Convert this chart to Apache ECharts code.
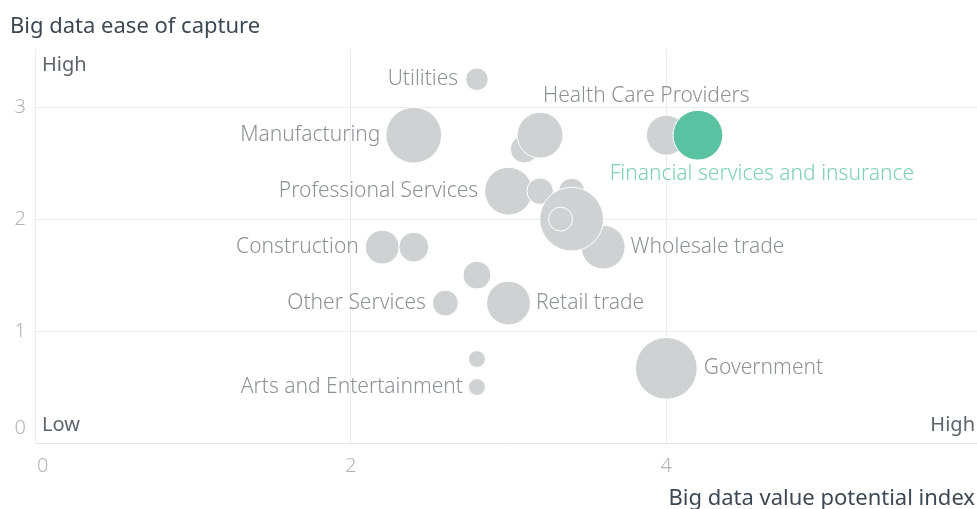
<!DOCTYPE html>
<html>
<head>
<meta charset="utf-8">
<script src="https://cdn.jsdelivr.net/npm/echarts@6/dist/echarts.min.js"></script>
<style>
  html, body { margin: 0; padding: 0; background: #fff; }
  #chart { width: 977px; height: 509px; }
</style>
</head>
<body>
<div id="chart"></div>
<script>
// data (x = value potential, y = ease of capture, size = bubble weight)
var names = ['', '', 'Utilities', 'Manufacturing', 'Health Care Providers', 'Professional Services',
  '', '', 'Wholesale trade', '', '', 'Construction', '', '', 'Other Services', 'Retail trade',
  '', 'Arts and Entertainment', 'Government'];
var xValues = [3.1, 3.2, 2.8, 2.4, 4.0, 3.0, 3.4, 3.2, 3.6, 3.4, 3.33, 2.2, 2.4, 2.8, 2.6, 3.0, 2.8, 2.8, 4.0];
var yValues = [2.625, 2.75, 3.25, 2.75, 2.75, 2.25, 2.25, 2.25, 1.75, 2.0, 2.0, 1.75, 1.75, 1.5, 1.25, 1.25, 0.75, 0.5, 0.667];
var sizes = [19.6, 52.9, 12.8, 78.4, 40, 57.6, 17, 17.6, 48.4, 102.4, 14.4, 28.9, 22.5, 19.6, 16.9, 48.4, 7.2, 7.2, 96.1];

var highlightName = ['Financial services and insurance'];
var highlightX = [4.2];
var highlightY = [2.75];
var highlightSize = [62.5];

var xTicks = [0, 2, 4, 6];
var yTicks = [0, 1, 2, 3];

var FONT = '"Noto Sans", "Open Sans", sans-serif';

// where each label sits next to its bubble
var labelPlace = {
  'Utilities': { position: 'left', distance: 7 },
  'Manufacturing': { position: 'left', distance: 5 },
  'Health Care Providers': { position: 'top', distance: 8, offset: [-20, 0] },
  'Professional Services': { position: 'left', distance: 6 },
  'Wholesale trade': { position: 'right', distance: 5 },
  'Construction': { position: 'left', distance: 6 },
  'Other Services': { position: 'left', distance: 6 },
  'Retail trade': { position: 'right', distance: 5 },
  'Arts and Entertainment': { position: 'left', distance: 5 },
  'Government': { position: 'right', distance: 6 },
  'Financial services and insurance': { position: 'bottom', distance: 3, offset: [64, 0] }
};

function buildData(n, xs, ys, ss) {
  return n.map(function (name, i) {
    var item = { name: name, value: [xs[i], ys[i], ss[i]] };
    if (name && labelPlace[name]) {
      item.label = Object.assign({ show: true }, labelPlace[name]);
    }
    return item;
  });
}

var myChart = echarts.init(document.getElementById('chart'), null, { renderer: 'canvas' });

var option = {
  backgroundColor: '#fff',
  animation: false,
  textStyle: { fontFamily: FONT },
  title: [
    {
      text: 'Big data ease of capture',
      left: 5,
      top: 11,
      textStyle: { fontFamily: FONT, fontSize: 22, fontWeight: 'normal', color: '#3e4852' }
    },
    {
      text: 'Big data value potential index',
      right: -3,
      top: 483,
      textStyle: { fontFamily: FONT, fontSize: 22, fontWeight: 'normal', color: '#3e4852' }
    }
  ],
  grid: {
    left: 35,
    width: 947,
    top: 49,
    bottom: 66,
    containLabel: false,
    outerBoundsMode: 'none'
  },
  graphic: [
    { type: 'text', left: 42, top: 55, style: { text: 'High', font: '20px ' + FONT, fill: '#5d646c' } },
    { type: 'text', left: 42, top: 415, style: { text: 'Low', font: '20px ' + FONT, fill: '#5d646c' } },
    { type: 'text', right: 2, top: 415, style: { text: 'High', font: '20px ' + FONT, fill: '#5d646c' } }
  ],
  xAxis: {
    type: 'value',
    min: xTicks[0],
    max: xTicks[xTicks.length - 1],
    interval: 2,
    axisLine: { show: true, lineStyle: { color: '#e3e3e3', width: 1 } },
    axisTick: { show: false },
    axisLabel: {
      showMaxLabel: false,
      alignMinLabel: 'left',
      margin: 13,
      fontSize: 20,
      fontWeight: 300,
      color: '#b1b5b9',
      fontFamily: FONT,
      formatter: function (v) { return v === 0 ? '{z|0}' : String(v); },
      rich: { z: { fontSize: 20, fontWeight: 300, color: '#b1b5b9', fontFamily: FONT, padding: [0, 0, 0, 2] } }
    },
    splitLine: { show: true, showMaxLine: false, lineStyle: { color: '#ececec', width: 1 } }
  },
  yAxis: {
    type: 'value',
    min: yTicks[0],
    max: 3.52,
    interval: 1,
    axisLine: { show: false },
    axisTick: { show: false },
    axisLabel: {
      showMaxLabel: false,
      verticalAlignMinLabel: 'bottom',
      margin: 9,
      fontSize: 20,
      fontWeight: 300,
      color: '#b1b5b9',
      fontFamily: FONT,
      formatter: function (v) { return v === 0 ? '{z|0}' : String(v); },
      rich: { z: { fontSize: 20, fontWeight: 300, color: '#b1b5b9', fontFamily: FONT, padding: [0, 0, 5, 0] } }
    },
    splitLine: { show: true, showMinLine: false, showMaxLine: false, lineStyle: { color: '#ececec', width: 1 } }
  },
  series: [
    {
      name: 'Industries',
      type: 'scatter',
      symbolSize: function (v) { return Math.sqrt(v[2]) * 6.3; },
      itemStyle: { color: '#cfd2d3', borderColor: '#ffffff', borderWidth: 1, opacity: 1 },
      label: {
        show: false,
        formatter: '{b}',
        fontFamily: FONT,
        fontSize: 21,
        fontWeight: 300,
        color: '#8d9297'
      },
      emphasis: { disabled: true },
      data: buildData(names, xValues, yValues, sizes)
    },
    {
      name: 'Highlight',
      type: 'scatter',
      symbolSize: function (v) { return Math.sqrt(v[2]) * 6.3; },
      itemStyle: { color: '#5bc2a1', borderColor: '#ffffff', borderWidth: 1, opacity: 1 },
      label: {
        show: false,
        formatter: '{b}',
        fontFamily: FONT,
        fontSize: 21,
        fontWeight: 300,
        color: '#7dd0b3'
      },
      emphasis: { disabled: true },
      data: buildData(highlightName, highlightX, highlightY, highlightSize)
    }
  ]
};

myChart.setOption(option);
</script>
</body>
</html>
